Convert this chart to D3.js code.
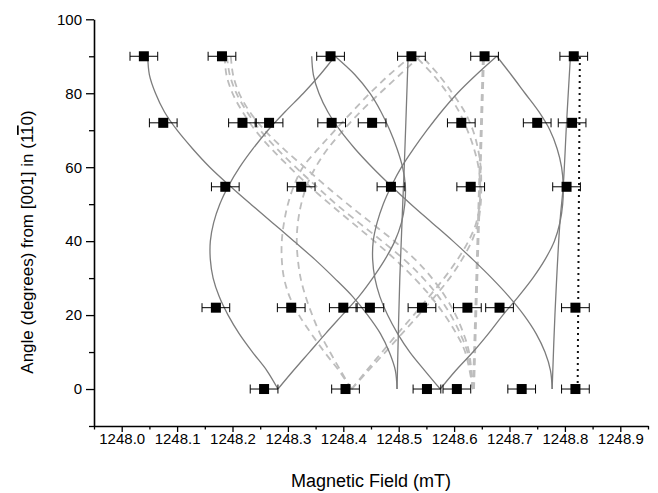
<!DOCTYPE html>
<html>
<head>
<meta charset="utf-8">
<script src="https://cdn.jsdelivr.net/npm/d3@7"></script>
<style>
  body { margin: 0; background: #fff; }
  text { font-family: "Liberation Sans", Arial, sans-serif; }
</style>
</head>
<body>
<svg id="chart" width="658" height="493"></svg>
<script>
// Axis ticks
const fieldTicks = [1248.0, 1248.1, 1248.2, 1248.3, 1248.4, 1248.5, 1248.6, 1248.7, 1248.8, 1248.9];
const fieldMinorTicks = [1247.95, 1248.05, 1248.15, 1248.25, 1248.35, 1248.45, 1248.55, 1248.65, 1248.75, 1248.85, 1248.95];
const angleTicks = [0, 20, 40, 60, 80, 100];
const angleMinorTicks = [-10, 10, 30, 50, 70, 90];

// Measured resonance positions: [angle (deg), field (mT)]
const measured = [
  [90, 1248.040], [90, 1248.181], [90, 1248.377], [90, 1248.523], [90, 1248.655], [90, 1248.816],
  [72, 1248.075], [72, 1248.218], [72, 1248.266], [72, 1248.379], [72, 1248.452], [72, 1248.613], [72, 1248.750], [72, 1248.813],
  [54.7, 1248.187], [54.7, 1248.324], [54.7, 1248.486], [54.7, 1248.630], [54.7, 1248.803],
  [22, 1248.170], [22, 1248.306], [22, 1248.400], [22, 1248.448], [22, 1248.542], [22, 1248.624], [22, 1248.682], [22, 1248.819],
  [0, 1248.257], [0, 1248.404], [0, 1248.551], [0, 1248.605], [0, 1248.722], [0, 1248.819]
];
const fieldError = 0.025;

// Simulated angular dependence, solid set: [angle, field]
const simA1 = [[0,1248.777],[5,1248.774],[10,1248.764],[15,1248.748],[20,1248.726],[25,1248.699],[30,1248.668],[35,1248.634],[40,1248.598],[45,1248.560],[50,1248.522],[55,1248.486],[60,1248.452],[65,1248.421],[70,1248.394],[75,1248.372],[80,1248.356],[85,1248.346],[90,1248.343]];
const simA2 = [[0,1248.777],[20,1248.782],[45,1248.791],[55,1248.797],[72,1248.803],[90,1248.810]];
const simA3 = [[0,1248.575],[5,1248.603],[10,1248.634],[15,1248.662],[20,1248.688],[25,1248.716],[30,1248.742],[35,1248.764],[40,1248.781],[45,1248.791],[50,1248.796],[55,1248.797],[60,1248.794],[65,1248.786],[70,1248.773],[75,1248.753],[80,1248.728],[85,1248.703],[90,1248.677]];
const simA4 = [[0,1248.575],[5,1248.547],[10,1248.520],[15,1248.498],[20,1248.480],[25,1248.466],[30,1248.457],[35,1248.453],[40,1248.454],[45,1248.461],[50,1248.472],[55,1248.487],[60,1248.505],[65,1248.527],[70,1248.551],[75,1248.577],[80,1248.606],[85,1248.640],[90,1248.677]];
const simB1 = [[0,1248.497],[5,1248.494],[10,1248.483],[15,1248.467],[20,1248.444],[25,1248.417],[30,1248.384],[35,1248.349],[40,1248.311],[45,1248.272],[50,1248.233],[55,1248.195],[60,1248.159],[65,1248.128],[70,1248.100],[75,1248.077],[80,1248.061],[85,1248.050],[90,1248.047]];
const simB2 = [[0,1248.497],[30,1248.502],[60,1248.510],[90,1248.517]];
const simB3 = [[0,1248.282],[5,1248.310],[10,1248.339],[15,1248.368],[20,1248.398],[25,1248.428],[30,1248.453],[35,1248.475],[40,1248.493],[45,1248.505],[50,1248.511],[55,1248.512],[60,1248.507],[65,1248.497],[70,1248.484],[75,1248.468],[80,1248.448],[85,1248.421],[90,1248.385]];
const simB4 = [[0,1248.282],[5,1248.262],[10,1248.236],[15,1248.212],[20,1248.192],[25,1248.176],[30,1248.165],[35,1248.160],[40,1248.160],[45,1248.166],[50,1248.177],[55,1248.193],[60,1248.213],[65,1248.237],[70,1248.264],[75,1248.295],[80,1248.328],[85,1248.358],[90,1248.385]];

// Simulated angular dependence, dashed set
const simC1a = [[0,1248.634],[10,1248.624],[15,1248.611],[20,1248.594],[25,1248.572],[30,1248.544],[35,1248.510],[40,1248.470],[45,1248.428],[50,1248.387],[55,1248.350],[60,1248.314],[65,1248.280],[70,1248.250],[75,1248.226],[80,1248.207],[85,1248.195],[90,1248.190]];
const simC1b = [[0,1248.634],[10,1248.620],[15,1248.604],[20,1248.583],[25,1248.558],[30,1248.528],[35,1248.494],[40,1248.456],[45,1248.416],[50,1248.376],[55,1248.338],[60,1248.303],[65,1248.270],[70,1248.241],[75,1248.218],[80,1248.200],[85,1248.189],[90,1248.186]];
const simC1c = [[0,1248.634],[10,1248.627],[15,1248.617],[20,1248.603],[25,1248.584],[30,1248.560],[35,1248.530],[40,1248.492],[45,1248.450],[50,1248.408],[55,1248.368],[60,1248.330],[65,1248.292],[70,1248.258],[75,1248.231],[80,1248.212],[85,1248.201],[90,1248.197]];
const simC2a = [[0,1248.634],[45,1248.643],[90,1248.652]];
const simC2b = [[0,1248.636],[45,1248.645],[90,1248.654]];
const simC3a = [[0,1248.415],[5,1248.442],[10,1248.470],[15,1248.498],[20,1248.527],[25,1248.555],[30,1248.582],[35,1248.606],[40,1248.626],[45,1248.640],[50,1248.646],[55,1248.647],[60,1248.644],[65,1248.636],[70,1248.624],[75,1248.609],[80,1248.588],[85,1248.562],[90,1248.530]];
const simC3b = [[0,1248.415],[5,1248.445],[10,1248.476],[15,1248.506],[20,1248.536],[25,1248.565],[30,1248.592],[35,1248.614],[40,1248.632],[45,1248.643],[50,1248.648],[55,1248.649],[60,1248.648],[65,1248.643],[70,1248.634],[75,1248.619],[80,1248.597],[85,1248.572],[90,1248.542]];
const simC4a = [[0,1248.415],[5,1248.392],[10,1248.366],[15,1248.342],[20,1248.320],[25,1248.303],[30,1248.293],[35,1248.289],[40,1248.289],[45,1248.293],[50,1248.300],[55,1248.311],[60,1248.327],[65,1248.355],[70,1248.385],[75,1248.416],[80,1248.448],[85,1248.483],[90,1248.522]];
const simC4b = [[0,1248.415],[5,1248.395],[10,1248.376],[15,1248.358],[20,1248.344],[25,1248.332],[30,1248.323],[35,1248.318],[40,1248.316],[45,1248.318],[50,1248.324],[55,1248.334],[60,1248.350],[65,1248.372],[70,1248.400],[75,1248.431],[80,1248.466],[85,1248.502],[90,1248.538]];

// Reference line
const refLine = [[0,1248.823],[90,1248.827]];

const svg = d3.select("#chart");
const x = d3.scaleLinear().domain([1247.95, 1248.95]).range([94, 648]);
const y = d3.scaleLinear().domain([-10, 100]).range([426, 19.3]);

const line = d3.line()
  .x(d => x(d[1]))
  .y(d => y(d[0]))
  .curve(d3.curveCatmullRom.alpha(0.5));

const plot = svg.append("g");

const dashedSets = [simC1a, simC1b, simC1c, simC2a, simC2b, simC3a, simC3b, simC4a, simC4b];
plot.selectAll("path.dashed").data(dashedSets).join("path")
  .attr("class", "dashed")
  .attr("d", line)
  .attr("fill", "none")
  .attr("stroke", "#bdbdbd")
  .attr("stroke-width", 1.8)
  .attr("stroke-dasharray", "7,5");

const solidSets = [simA1, simA2, simA3, simA4, simB1, simB2, simB3, simB4];
plot.selectAll("path.solid").data(solidSets).join("path")
  .attr("class", "solid")
  .attr("d", line)
  .attr("fill", "none")
  .attr("stroke", "#7c7c7c")
  .attr("stroke-width", 1.3);

plot.append("path")
  .attr("d", d3.line().x(d => x(d[1])).y(d => y(d[0]))(refLine))
  .attr("fill", "none")
  .attr("stroke", "#111")
  .attr("stroke-width", 2)
  .attr("stroke-dasharray", "2,4");

// Error bars and markers
const pts = plot.append("g");
pts.selectAll("path.err").data(measured).join("path")
  .attr("class", "err")
  .attr("d", d => {
    const x0 = x(d[1] - fieldError), x1 = x(d[1] + fieldError), yy = y(d[0]);
    return `M${x0},${yy}H${x1}M${x0},${yy - 4.5}V${yy + 4.5}M${x1},${yy - 4.5}V${yy + 4.5}`;
  })
  .attr("stroke", "#000")
  .attr("stroke-width", 1)
  .attr("fill", "none");
pts.selectAll("rect").data(measured).join("rect")
  .attr("x", d => x(d[1]) - 5)
  .attr("y", d => y(d[0]) - 5)
  .attr("width", 10)
  .attr("height", 10)
  .attr("fill", "#000");

// Axes
const fmt = d3.format(".1f");
svg.append("g").attr("transform", "translate(0,426)")
  .call(d3.axisBottom(x).tickValues(fieldTicks).tickFormat(fmt).tickSize(6).tickSizeOuter(0).tickPadding(1));
svg.append("g").attr("transform", "translate(0,426)")
  .call(d3.axisBottom(x).tickValues(fieldMinorTicks).tickFormat("").tickSize(3.5).tickSizeOuter(0))
  .select(".domain").remove();
svg.append("g").attr("transform", "translate(94,0)")
  .call(d3.axisLeft(y).tickValues(angleTicks).tickSize(8).tickSizeOuter(0).tickPadding(4));
svg.append("g").attr("transform", "translate(94,0)")
  .call(d3.axisLeft(y).tickValues(angleMinorTicks).tickFormat("").tickSize(5).tickSizeOuter(0))
  .select(".domain").remove();

svg.selectAll(".domain").attr("stroke", "#000").attr("stroke-width", 1.6);
svg.selectAll(".tick line").attr("stroke", "#000").attr("stroke-width", 1.3);
svg.selectAll(".tick text").attr("font-size", 15).attr("fill", "#000")
  .attr("font-family", "'Liberation Sans', Arial, sans-serif");

// Axis titles
svg.append("text")
  .attr("x", 371).attr("y", 487)
  .attr("text-anchor", "middle")
  .attr("font-size", 18)
  .text("Magnetic Field (mT)");

const yt = svg.append("text")
  .attr("transform", "translate(33,242) rotate(-90)")
  .attr("text-anchor", "middle")
  .attr("font-size", 17);
yt.append("tspan").text("Angle (degrees) from [001] in (1");
yt.append("tspan").style("text-decoration", "overline").text("1");
yt.append("tspan").text("0)");
</script>
</body>
</html>
